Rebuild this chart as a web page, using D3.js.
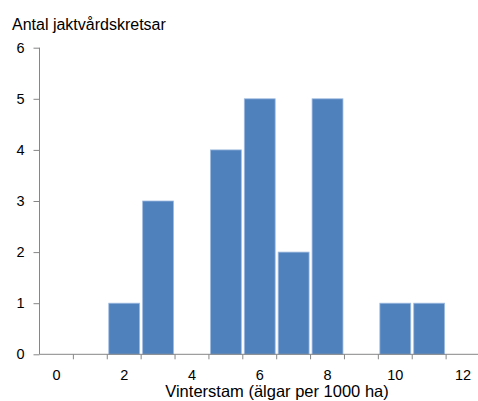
<!DOCTYPE html>
<html>
<head>
<meta charset="utf-8">
<script src="https://cdn.jsdelivr.net/npm/d3@7"></script>
<style>
  body { margin: 0; background: #fff; }
  text { font-family: "Liberation Sans", Arial, sans-serif; fill: #000; }
</style>
</head>
<body>
<svg width="478" height="401"></svg>
<script>
const categories = [0, 1, 2, 3, 4, 5, 6, 7, 8, 9, 10, 11, 12];
const counts = [0, 0, 1, 3, 0, 4, 5, 2, 5, 0, 1, 1, 0];
const yTicks = [0, 1, 2, 3, 4, 5, 6];
const xLabels = [0, 2, 4, 6, 8, 10, 12];
const yTitle = "Antal jaktvårdskretsar";
const xTitle = "Vinterstam (älgar per 1000 ha)";

const svg = d3.select("svg");
const m = {left: 39.5, right: 480, top: 47.7, bottom: 354.3};
const axisColor = "#868686";

const xb = d3.scaleBand().domain(categories).range([m.left, m.right]);
const y = d3.scaleLinear().domain([0, 6]).range([m.bottom, m.top]);

// bars
svg.append("g").selectAll("rect")
  .data(categories.map((c, i) => ({c, v: counts[i]})).filter(d => d.v > 0))
  .enter().append("rect")
  .attr("x", d => xb(d.c) + 1.5)
  .attr("width", xb.bandwidth() - 3)
  .attr("y", d => y(d.v))
  .attr("height", d => y(0) - y(d.v))
  .attr("fill", "#4f81bd")
  .attr("stroke", "#9fbbe0")
  .attr("stroke-width", 0.8);

// y axis
const yAxis = svg.append("g")
  .attr("transform", `translate(${m.left},0)`)
  .call(d3.axisLeft(y).tickValues(yTicks).tickSize(6).tickPadding(9).tickFormat(d3.format("d")));
yAxis.select(".domain").attr("stroke", axisColor).attr("d", `M0,${m.top}V${m.bottom}`);
yAxis.selectAll(".tick line").attr("stroke", axisColor);
yAxis.selectAll("text").style("font-size", "14.5px");

// x axis: ticks at band boundaries, labels every other category
const xg = svg.append("g").attr("transform", `translate(0,${m.bottom})`);
xg.append("line").attr("x1", m.left).attr("x2", m.right).attr("stroke", axisColor);
xg.selectAll(".bt")
  .data(categories)
  .enter().append("line")
  .attr("x1", d => xb(d) + xb.bandwidth())
  .attr("x2", d => xb(d) + xb.bandwidth())
  .attr("y1", 0).attr("y2", 5)
  .attr("stroke", axisColor);
xg.selectAll(".lbl")
  .data(xLabels)
  .enter().append("text")
  .attr("x", d => xb(d) + xb.bandwidth() / 2)
  .attr("y", 25.5)
  .attr("text-anchor", "middle")
  .style("font-size", "14.5px")
  .text(d => d);

svg.append("text")
  .attr("x", 12).attr("y", 30)
  .style("font-size", "16px")
  .text(yTitle);

svg.append("text")
  .attr("x", 277).attr("y", 396.5)
  .attr("text-anchor", "middle")
  .style("font-size", "16.5px")
  .text(xTitle);
</script>
</body>
</html>
